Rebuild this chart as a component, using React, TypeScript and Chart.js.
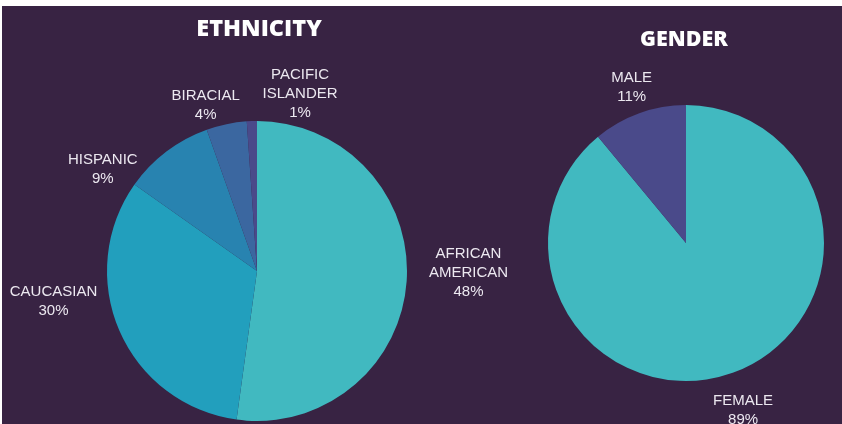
import React, { useEffect, useRef } from "react";
import { Chart, registerables } from "chart.js";

Chart.register(...registerables);

const ethnicityLabels = ["AFRICAN|AMERICAN", "CAUCASIAN", "HISPANIC", "BIRACIAL", "PACIFIC|ISLANDER"];
const ethnicityValues = [48, 30, 9, 4, 1];
const ethnicityColors = ["#41b9c0", "#229fbd", "#2883b0", "#3b67a0", "#4a4a8a"];

const genderLabels = ["FEMALE", "MALE"];
const genderValues = [89, 11];
const genderColors = ["#41b9c0", "#4a4a8a"];

// label anchors in polar form: [angle clockwise from top in degrees, distance as multiple of radius]
const ethnicityLabelPolar: [number, number][] = [
  [90, 1.41],
  [262, 1.37],
  [304, 1.24],
  [343, 1.17],
  [13.5, 1.23],
];
const genderLabelPolar: [number, number][] = [
  [161, 1.27],
  [341, 1.21],
];

const BG = "#382343";

function makePlugin(title: string, titleSize: number, titleX: number, titleY: number, labels: string[], polar: [number, number][]) {
  return {
    id: "customText_" + title,
    afterDraw(chart: any) {
      const ctx = chart.ctx;
      const meta = chart.getDatasetMeta(0);
      const arc = meta.data[0];
      const cx = arc.x;
      const cy = arc.y;
      const r = arc.outerRadius;
      ctx.save();
      ctx.fillStyle = "#ffffff";
      ctx.textAlign = "center";
      ctx.textBaseline = "middle";
      ctx.font = "800 " + titleSize + "px 'Open Sans', sans-serif";
      ctx.fillText(title, titleX, titleY);
      ctx.font = "15px 'Liberation Sans', Arial, sans-serif";
      ctx.fillStyle = "#ece8f0";
      const values = chart.data.datasets[0].data;
      labels.forEach((lab, i) => {
        const [angDeg, k] = polar[i];
        const a = (angDeg * Math.PI) / 180;
        const x = cx + Math.sin(a) * r * k;
        const y = cy - Math.cos(a) * r * k + 2;
        const lines = lab.split("|").concat([values[i] + "%"]);
        const lh = 19;
        const start = y - ((lines.length - 1) * lh) / 2;
        lines.forEach((ln, j) => ctx.fillText(ln, x, start + j * lh));
      });
      ctx.restore();
    },
  };
}

function PieCanvas(props: {
  labels: string[];
  values: number[];
  colors: string[];
  padding: { left: number; top: number; right: number; bottom: number };
  plugin: any;
}) {
  const ref = useRef<HTMLCanvasElement>(null);
  useEffect(() => {
    if (!ref.current) return;
    const chart = new Chart(ref.current, {
      type: "pie",
      data: {
        labels: props.labels.map((l) => l.replace("|", " ")),
        datasets: [
          {
            data: props.values,
            backgroundColor: props.colors,
            borderWidth: 0,
          },
        ],
      },
      options: {
        animation: false,
        responsive: false,
        maintainAspectRatio: false,
        layout: { padding: props.padding },
        plugins: { legend: { display: false }, tooltip: { enabled: false }, title: { display: false } },
      },
      plugins: [props.plugin],
    });
    return () => chart.destroy();
  }, []);
  return (
    <canvas
      ref={ref}
      width={842}
      height={424}
      style={{ position: "absolute", left: 0, top: 0, width: 842, height: 424 }}
    />
  );
}

export default function App() {
  return (
    <div style={{ position: "fixed", left: 0, top: 0, width: 842, height: 424, background: "#ffffff", overflow: "hidden" }}>
      <div style={{ position: "absolute", left: 2, top: 6, width: 840, height: 418, background: BG }} />
      <PieCanvas
        labels={ethnicityLabels}
        values={ethnicityValues}
        colors={ethnicityColors}
        padding={{ left: 107, top: 121, right: 435, bottom: 3 }}
        plugin={makePlugin("ETHNICITY", 23.5, 259, 29, ethnicityLabels, ethnicityLabelPolar)}
      />
      <PieCanvas
        labels={genderLabels}
        values={genderValues}
        colors={genderColors}
        padding={{ left: 548, top: 105, right: 18, bottom: 43 }}
        plugin={makePlugin("GENDER", 21.5, 684, 39.5, genderLabels, genderLabelPolar)}
      />
    </div>
  );
}
